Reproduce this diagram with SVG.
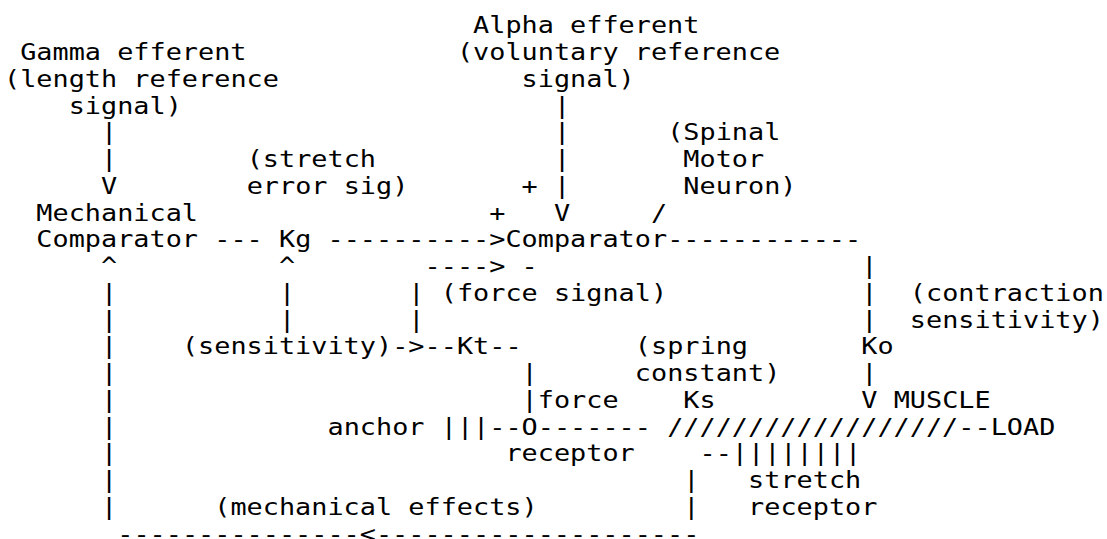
<svg xmlns="http://www.w3.org/2000/svg" width="1107" height="539" viewBox="0 0 1107 539" xml:space="preserve">
<style>
text { font-family: "DejaVu Sans Mono", "Liberation Mono", monospace; font-size: 23px; fill: #000; white-space: pre; }
</style>
<rect x="0" y="0" width="1107" height="539" fill="#fff"/>
<g transform="matrix(1.16811 0 0 1 4 0)">
  <g id="gamma-efferent">
    <text x="13.85" y="60.05">Gamma efferent</text>
    <text x="0" y="86.8">(length reference</text>
    <text x="55.39" y="113.55">signal)</text>
  </g>
  <g id="alpha-efferent">
    <text x="401.57" y="33.3">Alpha efferent</text>
    <text x="387.72" y="60.05">(voluntary reference</text>
    <text x="443.11" y="86.8">signal)</text>
  </g>
  <g id="spinal-motor-neuron">
    <text x="567.74" y="140.3">(Spinal</text>
    <text x="581.58" y="167.05">Motor</text>
    <text x="581.58" y="193.8">Neuron)</text>
  </g>
  <g id="stretch-error-label">
    <text x="207.71" y="167.05">(stretch</text>
    <text x="207.71" y="193.8">error sig)</text>
  </g>
  <g id="mechanical-comparator">
    <text x="27.69" y="220.55">Mechanical</text>
    <text x="27.69" y="247.3">Comparator</text>
  </g>
  <g id="kg">
    <text x="235.40" y="247.3">Kg</text>
  </g>
  <g id="comparator">
    <text x="443.11" y="193.8">+</text>
    <text x="415.42" y="220.55">+</text>
    <text x="429.26" y="247.3">Comparator</text>
    <text x="443.11" y="274.05">-</text>
  </g>
  <g id="force-signal-label">
    <text x="373.87" y="300.8">(force signal)</text>
  </g>
  <g id="contraction-sensitivity">
    <text x="775.44" y="300.8">(contraction</text>
    <text x="775.44" y="327.55">sensitivity)</text>
  </g>
  <g id="sensitivity-label">
    <text x="152.32" y="354.3">(sensitivity)</text>
  </g>
  <g id="kt">
    <text x="387.72" y="354.3">Kt</text>
  </g>
  <g id="spring-constant-label">
    <text x="540.04" y="354.3">(spring</text>
    <text x="540.04" y="381.05">constant)</text>
  </g>
  <g id="ko">
    <text x="733.90" y="354.3">Ko</text>
  </g>
  <g id="ks">
    <text x="581.58" y="407.8">Ks</text>
  </g>
  <g id="muscle-label">
    <text x="761.60" y="407.8">MUSCLE</text>
  </g>
  <g id="anchor">
    <text x="276.94" y="434.55">anchor</text>
    <text x="373.87" y="434.55">|||</text>
  </g>
  <g id="force-receptor">
    <text x="456.96" y="407.8">force</text>
    <text x="443.11" y="434.55">O</text>
    <text x="429.26" y="461.3">receptor</text>
  </g>
  <g id="muscle">
    <text x="567.74" y="434.55">//////////////////</text>
  </g>
  <g id="load">
    <text x="844.68" y="434.55">LOAD</text>
  </g>
  <g id="stretch-receptor">
    <text x="623.12" y="461.3">||||||||</text>
    <text x="636.97" y="488.05">stretch</text>
    <text x="636.97" y="514.8">receptor</text>
  </g>
  <g id="mechanical-effects-label">
    <text x="180.01" y="514.8">(mechanical effects)</text>
  </g>
  <g id="connectors">
    <text x="470.80" y="113.55">|</text>
    <text x="83.08" y="140.3">|</text>
    <text x="470.80" y="140.3">|</text>
    <text x="83.08" y="167.05">|</text>
    <text x="470.80" y="167.05">|</text>
    <text x="83.08" y="193.8">V</text>
    <text x="470.80" y="193.8">|</text>
    <text x="470.80" y="220.55">V</text>
    <text x="553.89" y="220.55">/</text>
    <text x="180.01" y="247.3">---</text>
    <text x="276.94" y="247.3">----------&gt;</text>
    <text x="567.74" y="247.3">------------</text>
    <text x="83.08" y="274.05">^</text>
    <text x="235.40" y="274.05">^</text>
    <text x="360.03" y="274.05">----&gt;</text>
    <text x="733.90" y="274.05">|</text>
    <text x="83.08" y="300.8">|</text>
    <text x="235.40" y="300.8">|</text>
    <text x="346.18" y="300.8">|</text>
    <text x="733.90" y="300.8">|</text>
    <text x="83.08" y="327.55">|</text>
    <text x="235.40" y="327.55">|</text>
    <text x="346.18" y="327.55">|</text>
    <text x="733.90" y="327.55">|</text>
    <text x="83.08" y="354.3">|</text>
    <text x="332.33" y="354.3">-&gt;--</text>
    <text x="415.42" y="354.3">--</text>
    <text x="83.08" y="381.05">|</text>
    <text x="443.11" y="381.05">|</text>
    <text x="733.90" y="381.05">|</text>
    <text x="83.08" y="407.8">|</text>
    <text x="443.11" y="407.8">|</text>
    <text x="733.90" y="407.8">V</text>
    <text x="83.08" y="434.55">|</text>
    <text x="415.42" y="434.55">--</text>
    <text x="456.96" y="434.55">-------</text>
    <text x="816.98" y="434.55">--</text>
    <text x="83.08" y="461.3">|</text>
    <text x="595.43" y="461.3">--</text>
    <text x="83.08" y="488.05">|</text>
    <text x="581.58" y="488.05">|</text>
    <text x="83.08" y="514.8">|</text>
    <text x="581.58" y="514.8">|</text>
    <text x="96.93" y="541.55">---------------&lt;--------------------</text>
  </g>
</g>
</svg>
